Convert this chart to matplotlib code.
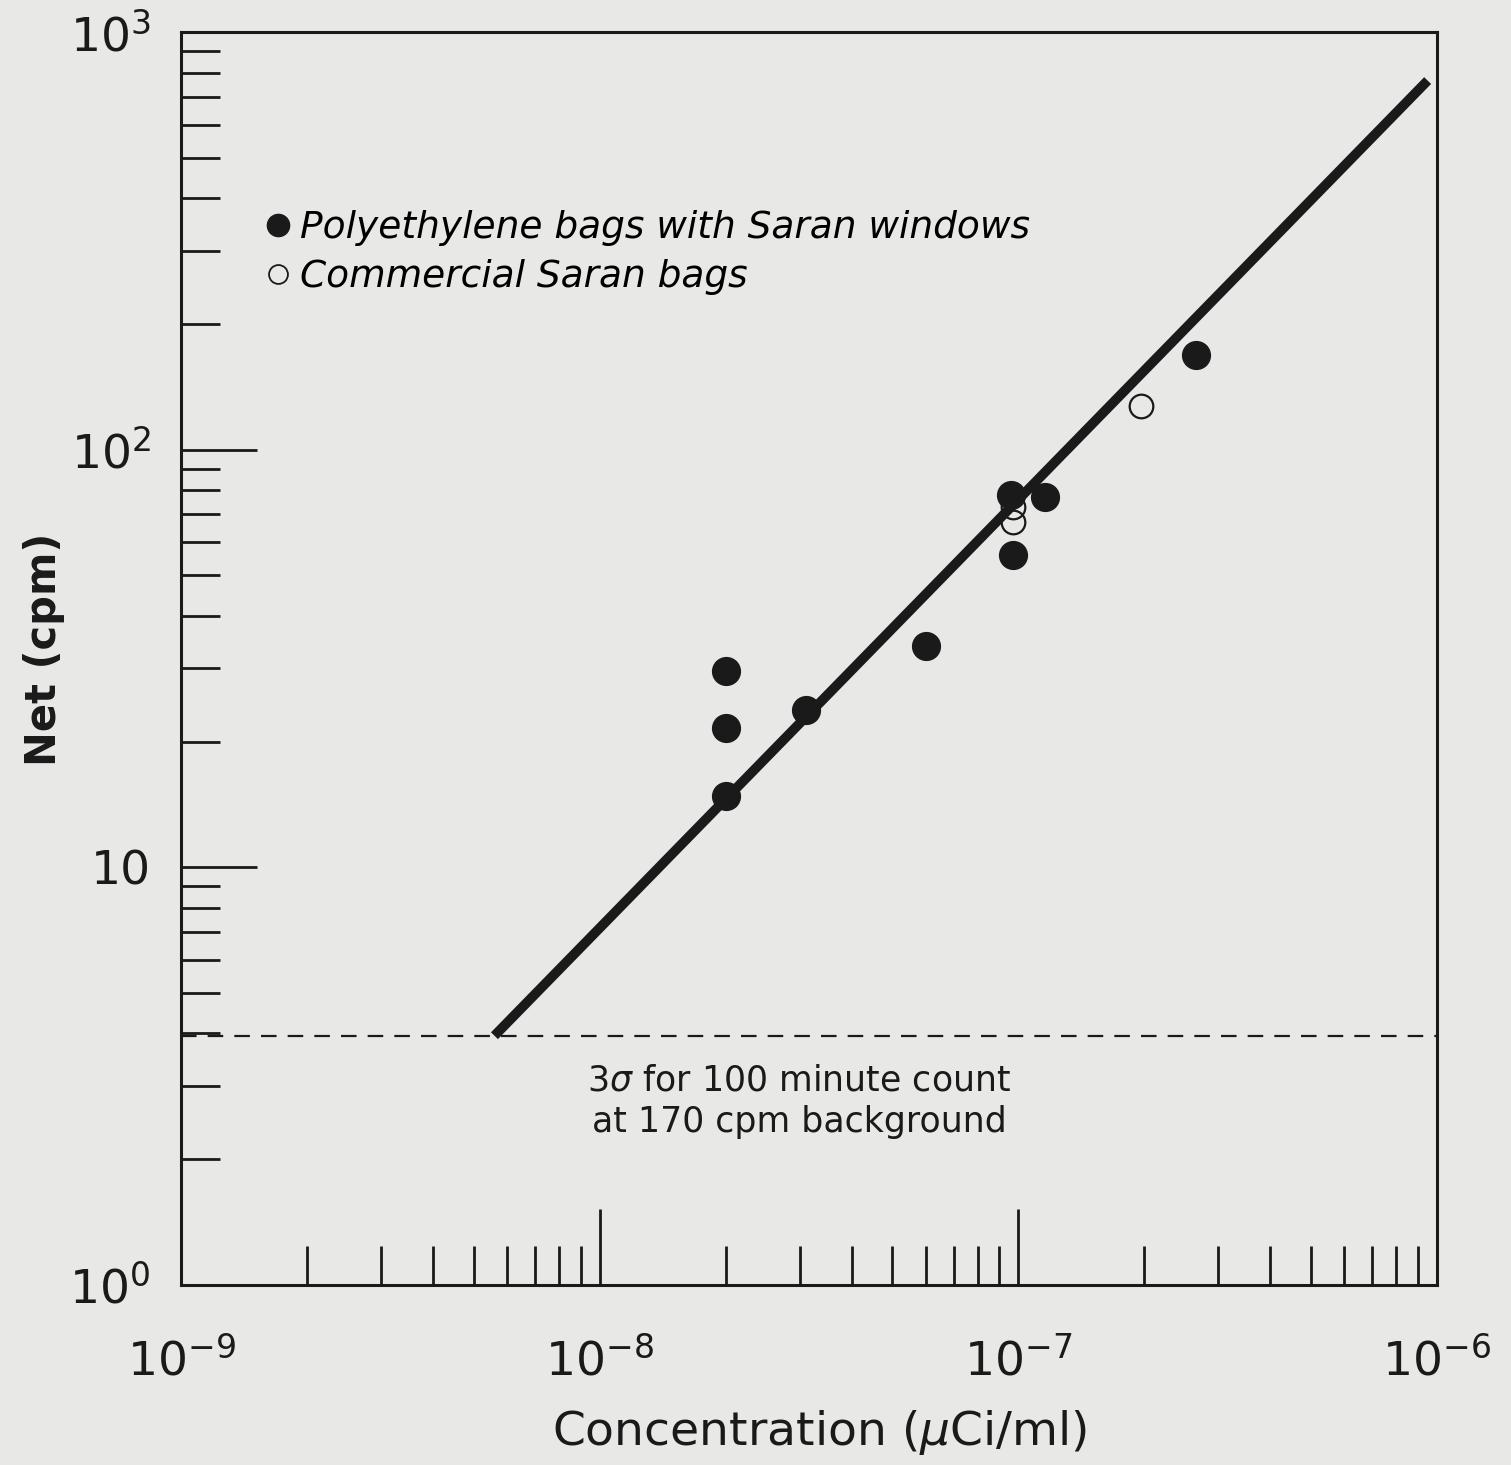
import numpy as np
import matplotlib.pyplot as plt
from matplotlib.ticker import LogLocator, FixedLocator, FixedFormatter, NullFormatter

# polyethylene bags with saran windows (filled)
poly_conc = [2.0e-8, 2.0e-8, 2.0e-8, 3.1e-8, 6.0e-8, 9.6e-8, 9.7e-8, 1.16e-7, 2.65e-7]
poly_cpm = [29.6, 21.6, 14.8, 23.8, 33.8, 78, 56, 77, 169]

# commercial saran bags (open)
saran_conc = [9.7e-8, 9.7e-8, 1.96e-7]
saran_cpm = [73, 67, 127]

# fitted line and 3 sigma limit
fit_conc = [5.6e-9, 9.5e-7]
fit_cpm = [3.95, 766]
limit_cpm = 3.95

y_ticks = [1, 10, 100, 1000]
y_labels = ["$10^{0}$", "10", "$10^{2}$", "$10^{3}$"]
x_ticks = [1e-9, 1e-8, 1e-7, 1e-6]
x_labels = ["$10^{-9}$", "$10^{-8}$", "$10^{-7}$", "$10^{-6}$"]

bg = "#e8e8e6"
ink = "#1a1a1a"

fig = plt.figure(figsize=(15.11, 14.65), dpi=100, facecolor=bg)
ax = fig.add_axes([0.120, 0.123, 0.831, 0.855], facecolor=bg)

ax.set_xscale("log")
ax.set_yscale("log")
ax.set_xlim(1e-9, 1e-6)
ax.set_ylim(1, 1000)

# 3 sigma line
ax.plot([1e-9, 1e-6], [limit_cpm, limit_cpm], color=ink, lw=1.6,
        linestyle=(0, (7, 5)))
# regression line
ax.plot(fit_conc, fit_cpm, color=ink, lw=7, solid_capstyle="butt")

ax.plot(poly_conc, poly_cpm, "o", color=ink, markersize=20, linestyle="none",
        label="Polyethylene bags with Saran windows")
ax.plot(saran_conc, saran_cpm, "o", markerfacecolor="none", markeredgecolor=ink,
        markeredgewidth=1.6, markersize=17, linestyle="none",
        label="Commercial Saran bags")

leg = ax.legend(loc="upper left", bbox_to_anchor=(0.035, 0.885), frameon=False,
                prop={"style": "italic", "size": 27}, handletextpad=0.1,
                labelspacing=0.35, markerscale=0.8, handlelength=1.0)
leg.legend_handles[1].set_markeredgewidth(1.3)

ax.text(3.0e-8, 2.75, "3$\\sigma$ for 100 minute count\nat 170 cpm background",
        ha="center", va="center", fontsize=25, color=ink, linespacing=1.3)

for s in ax.spines.values():
    s.set_linewidth(2.2)
    s.set_color(ink)

ax.yaxis.set_major_locator(FixedLocator(y_ticks))
ax.yaxis.set_major_formatter(FixedFormatter(y_labels))
ax.xaxis.set_major_locator(FixedLocator(x_ticks))
ax.xaxis.set_major_formatter(FixedFormatter(x_labels))
ax.xaxis.set_minor_locator(LogLocator(base=10, subs=np.arange(2, 10)))
ax.yaxis.set_minor_locator(LogLocator(base=10, subs=np.arange(2, 10)))
ax.xaxis.set_minor_formatter(NullFormatter())
ax.yaxis.set_minor_formatter(NullFormatter())

ax.tick_params(which="major", direction="in", length=55, width=2, color=ink,
               labelsize=34, labelcolor=ink)
ax.tick_params(axis="x", which="major", pad=38)
ax.tick_params(axis="y", which="major", pad=22)
ax.tick_params(which="minor", direction="in", length=28, width=2, color=ink)

ax.set_xlabel("Concentration ($\\mu$Ci/ml)", fontsize=34, color=ink)
ax.set_ylabel("Net (cpm)", fontsize=30, color=ink, fontweight="bold")
ax.xaxis.set_label_coords(0.508, -0.098)
ax.yaxis.set_label_coords(-0.093, 0.507)

fig.savefig("out.png", dpi=100, facecolor=bg)
